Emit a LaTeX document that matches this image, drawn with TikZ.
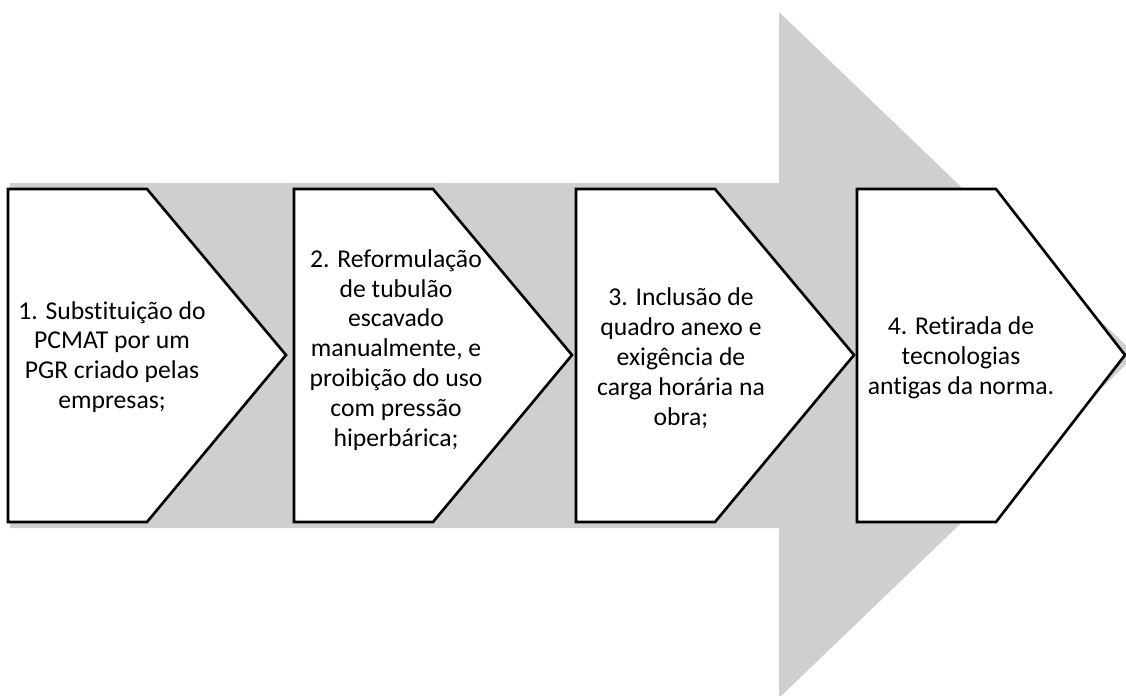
\documentclass[tikz,border=0pt]{standalone}
\usepackage{fontspec}
\setmainfont{Carlito}[Ligatures={NoCommon}]
\definecolor{arrowgray}{RGB}{208,206,208}
\tikzset{
    stepbox/.style={draw=black, fill=white, line width=1.5pt, line join=miter},
    steptext/.style={align=center, inner sep=0pt, font=\fontsize{14.6}{17}\selectfont}
}
\begin{document}
\begin{tikzpicture}[x=0.02cm, y=-0.02cm]
        \useasboundingbox (0,0) rectangle (1126,696);
        \clip (0,0) rectangle (1126,696);
        % big arrow behind
        \fill[arrowgray] (10,183) -- (779,183) -- (779,12) -- (1136,355)
        -- (779,698) -- (779,528) -- (10,528) -- cycle;
        % the four steps
        \foreach \x/\d [count=\i] in {8/139, 294/139, 576/139, 857/129}
            \draw[stepbox] (\x,189) -- ++(139,0) -- ++(\d,166)
            -- ++(-\d,167) -- ++(-139,0) -- cycle;
        \node[steptext] (s1) at (112,357) {1. Substituição do\\PCMAT por um\\PGR criado pelas\\empresas;};
        \node[steptext] (s2) at (396,350) {2. Reformulação\\de tubulão\\escavado\\manualmente, e\\proibição do uso\\com pressão\\hiperbárica;};
        \node[steptext] (s3) at (681,358) {3. Inclusão de\\quadro anexo e\\exigência de\\carga horária na\\obra;};
        \node[steptext] (s4) at (961,358) {4. Retirada de\\tecnologias\\antigas da norma.};
    \end{tikzpicture}
\end{document}
